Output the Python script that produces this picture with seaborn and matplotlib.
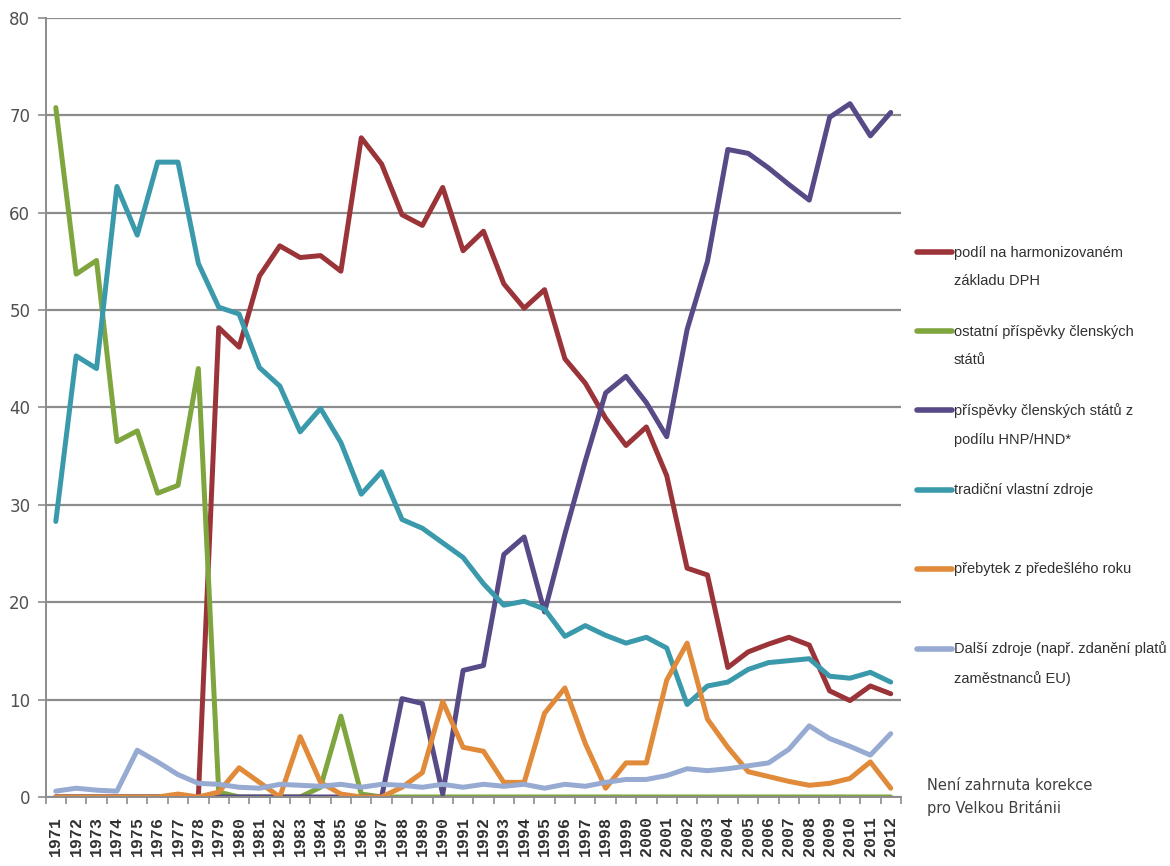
import numpy as np
import pandas as pd
import matplotlib
matplotlib.use('Agg')
import matplotlib.pyplot as plt
import seaborn as sns
from matplotlib.ticker import FixedLocator, NullFormatter

years = list(range(1971, 2013))

dph = [0, 0, 0, 0, 0, 0, 0, 0, 48.2, 46.2, 53.5, 56.6, 55.4, 55.6, 54.0, 67.7, 65.0, 59.8, 58.7, 62.6,
       56.1, 58.1, 52.7, 50.2, 52.1, 45.0, 42.5, 38.9, 36.1, 38.0, 33.0, 23.5, 22.8, 13.3, 14.9, 15.7,
       16.4, 15.6, 10.9, 9.9, 11.4, 10.6]
ostatni = [70.8, 53.7, 55.1, 36.5, 37.6, 31.2, 32.0, 44.0, 0.5, 0, 0, 0, 0, 1.0, 8.3, 0.3, 0, 0, 0, 0,
           0, 0, 0, 0, 0, 0, 0, 0, 0, 0, 0, 0, 0, 0, 0, 0, 0, 0, 0, 0, 0, 0]
hnp = [0, 0, 0, 0, 0, 0, 0, 0, 0, 0, 0, 0, 0, 0, 0, 0, 0, 10.1, 9.6, 0.3,
       13.0, 13.5, 24.9, 26.7, 19.0, 27.0, 34.5, 41.5, 43.2, 40.5, 37.0, 48.0, 55.0, 66.5, 66.1, 64.6,
       62.9, 61.3, 69.8, 71.2, 67.9, 70.3]
tradicni = [28.3, 45.3, 44.0, 62.7, 57.7, 65.2, 65.2, 54.8, 50.3, 49.6, 44.1, 42.2, 37.5, 39.9, 36.4, 31.1,
            33.4, 28.5, 27.6, 26.1, 24.6, 21.9, 19.7, 20.1, 19.3, 16.5, 17.6, 16.6, 15.8, 16.4, 15.3, 9.5,
            11.4, 11.8, 13.1, 13.8, 14.0, 14.2, 12.4, 12.2, 12.8, 11.8]
prebytek = [0, 0, 0, 0, 0, 0, 0.3, 0, 0.5, 3.0, 1.5, 0, 6.2, 1.5, 0.3, 0, 0, 1.0, 2.5, 9.8,
            5.1, 4.7, 1.5, 1.5, 8.6, 11.2, 5.5, 0.9, 3.5, 3.5, 12.0, 15.8, 8.0, 5.1, 2.6, 2.1,
            1.6, 1.2, 1.4, 1.9, 3.6, 0.9]
dalsi = [0.6, 0.9, 0.7, 0.6, 4.8, 3.6, 2.3, 1.4, 1.3, 1.0, 0.9, 1.3, 1.2, 1.1, 1.3, 1.0, 1.3, 1.2, 1.0, 1.3,
         1.0, 1.3, 1.1, 1.3, 0.9, 1.3, 1.1, 1.5, 1.8, 1.8, 2.2, 2.9, 2.7, 2.9, 3.2, 3.5, 4.9, 7.3, 6.0,
         5.2, 4.3, 6.5]

labels = ['podíl na harmonizovaném\nzákladu DPH',
          'ostatní příspěvky členských\nstátů',
          'příspěvky členských států z\npodílu HNP/HND*',
          'tradiční vlastní zdroje',
          'přebytek z předešlého roku',
          'Další zdroje (např. zdanění platů\nzaměstnanců EU)']
colors = ['#9b3439', '#7fa53f', '#574a87', '#3a9aab', '#e08a3a', '#97aad2']

series = [dph, ostatni, hnp, tradicni, prebytek, dalsi]
rows = []
for lab, vals in zip(labels, series):
    for i, (yr, v) in enumerate(zip(years, vals)):
        rows.append({'idx': i, 'rok': yr, 'serie': lab, 'hodnota': v})
df = pd.DataFrame(rows)

sns.set_style('white')
plt.rcParams['font.family'] = ['Liberation Sans', 'DejaVu Sans']

fig = plt.figure(figsize=(11.7, 8.66), dpi=100)
ax = fig.add_axes([0.039, 0.0797, 0.731, 0.8995])

sns.lineplot(data=df, x='idx', y='hodnota', hue='serie', hue_order=labels,
             palette=colors, linewidth=3.6, sort=False, ax=ax)

ax.set_xlim(-0.5, len(years) - 0.5)
ax.set_ylim(0, 80)
ax.set_yticks(range(0, 81, 10))
ax.yaxis.grid(True, color='#8c8c8c', linewidth=1.6)
ax.set_axisbelow(True)
ax.set_xlabel('')
ax.set_ylabel('')

ax.set_xticks(range(len(years)))
ax.set_xticklabels([str(y) for y in years], rotation=90, family=['Liberation Mono', 'DejaVu Sans Mono'],
                   fontsize=12, fontweight='bold', color='#303030')
ax.xaxis.set_minor_locator(FixedLocator(np.arange(-0.5, len(years), 1)))
ax.xaxis.set_minor_formatter(NullFormatter())
ax.tick_params(axis='x', which='major', length=0, pad=14)
ax.tick_params(axis='x', which='minor', length=5, color='#8c8c8c', width=1.2, bottom=True)
ax.tick_params(axis='y', length=6, color='#8c8c8c', width=1.2, left=True, labelsize=12,
               labelcolor='#505050', pad=5)
for t in ax.get_yticklabels():
    t.set_family(['DejaVu Sans'])

for s in ['top', 'right']:
    ax.spines[s].set_visible(False)
for s in ['left', 'bottom']:
    ax.spines[s].set_color('#8c8c8c')
    ax.spines[s].set_linewidth(1.4)

# legend: every label on two lines, key aligned with first line
handles, labs = ax.get_legend_handles_labels()
ax.get_legend().remove()
labs = [l if '\n' in l else l + '\n' for l in labs]
leg = fig.legend(handles, labs, loc='upper left', bbox_to_anchor=(0.784, 0.716), frameon=False,
                 fontsize=10.5, handlelength=2.4, handletextpad=0.1, labelspacing=2.5,
                 borderpad=0, borderaxespad=0)
for t in leg.get_texts():
    t.set_linespacing(2.3)
    t.set_color('#303030')
for h in leg.legend_handles:
    h.set_linewidth(4)
    h.set_ydata(np.asarray(h.get_ydata()) + 10.8)

fig.text(0.792, 0.058, 'Není zahrnuta korekce\npro Velkou Británii',
         family=['DejaVu Sans'], fontsize=10.5, color='#404040', linespacing=1.55, va='bottom')

fig.savefig('out.png', dpi=100)
